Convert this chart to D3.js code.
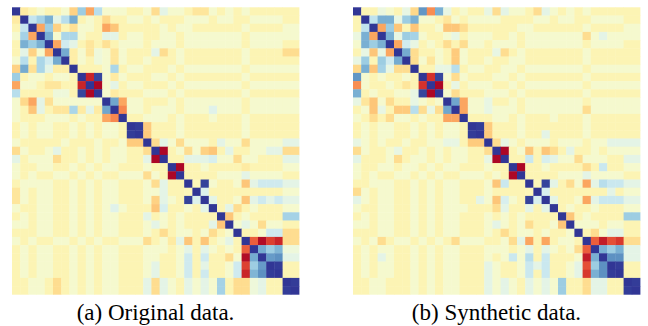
<!DOCTYPE html>
<html>
<head>
<meta charset="utf-8">
<script src="https://cdn.jsdelivr.net/npm/d3@7"></script>
<style>
  body { margin: 0; background: #fff; }
  text { font-family: "Liberation Serif", "DejaVu Serif", serif; }
</style>
</head>
<body>
<svg id="chart" width="648" height="326"></svg>
<script>
// 35 variables, correlation matrices stored as lower triangles (row i holds cols 0..i-1)
const variables = d3.range(35);

const originalLower = [
  [],
  [-.12],
  [-.05, .3],
  [.05, .42, -.42],
  [-.05, .58, .45, .58],
  [-.05, .16, -.25, .05, -.42],
  [.05, .35, -.05, .4, .25, .6],
  [-.25, .6, -.18, .4, .16, -.1, -.1],
  [.45, -.05, .05, .05, -.05, .05, .05, -.05],
  [-.42, .05, .05, -.05, -.15, -.15, -.05, -.05, -.85],
  [.35, -.05, -.05, -.05, -.05, .1, .1, -.05, .95, -.97],
  [.05, -.22, -.42, .16, -.18, .05, .05, .05, .05, .05, .05],
  [.05, -.05, -.3, .16, -.05, -.15, -.15, .4, -.12, .16, -.12, .62],
  [.05, -.05, -.05, -.05, .05, .05, .05, -.05, .05, -.05, -.05, -.42, -.52],
  [-.05, .05, -.05, .05, .05, -.05, -.05, .05, -.05, .05, -.05, .05, .05, -.05],
  [-.05, .05, -.05, .05, .05, -.05, -.05, .05, -.05, .05, -.05, .05, .05, -.05, .98],
  [.05, -.05, -.05, -.05, -.05, -.05, .05, -.05, -.05, -.05, .05, -.05, -.05, .05, -.28, -.28],
  [-.2, .05, -.05, -.05, .05, .16, -.05, -.05, .05, -.05, .05, -.05, .05, .05, -.05, -.05, -.2],
  [.16, -.05, .05, .05, .05, -.2, -.05, -.05, .05, -.05, .05, -.05, .05, .05, -.05, -.05, .16, -.97],
  [.05, -.05, -.05, .05, .05, -.05, -.05, .05, -.05, .05, -.05, .05, .05, -.05, -.05, -.05, .05, -.05, -.05],
  [.05, -.05, .05, -.05, -.05, .05, .05, -.05, .05, -.05, .05, -.05, -.05, .05, .05, .05, -.2, .05, -.05, -.97],
  [-.05, .05, .05, .05, .05, -.05, -.05, .05, -.05, .05, -.05, .05, .05, -.05, -.05, -.05, .05, -.2, .16, -.05, -.05],
  [-.15, .05, -.05, .05, .05, -.05, -.05, .05, -.05, .05, -.05, .05, .05, -.05, -.05, -.05, .05, .05, .16, -.05, -.05, -.03],
  [-.15, .05, -.05, .05, .05, -.05, -.05, .05, -.05, .05, -.05, .05, .05, -.05, -.05, -.05, .05, -.25, .16, .05, -.05, .96, .2],
  [.05, -.05, -.05, .05, .05, -.05, -.05, .05, -.05, .05, -.05, .05, .18, .05, -.05, -.05, -.05, -.3, .22, -.05, -.05, .05, -.05, .16],
  [-.05, .05, -.05, .05, .05, -.05, -.05, .05, -.05, .05, -.05, .05, .05, -.05, -.05, -.05, .16, -.05, .05, -.05, .05, -.05, -.05, -.05, -.05],
  [.05, .05, -.05, .05, .05, -.05, -.05, .05, -.05, .05, -.05, .05, .05, -.05, -.05, -.05, .05, .16, .05, -.05, .05, -.05, -.05, -.05, .16, -.3],
  [-.05, -.05, -.05, .05, .05, -.05, -.05, .05, -.05, .05, -.05, .05, .05, -.05, -.05, -.05, .05, -.05, -.2, -.05, .05, .05, -.05, .05, -.2, -.05, .05],
  [.05, -.05, .05, -.05, -.05, .05, .05, -.05, .05, -.05, .05, -.05, -.05, .05, .05, .05, -.2, -.05, .05, -.12, .16, -.3, -.05, -.3, -.05, .05, .16, -.05],
  [-.05, .05, -.05, .05, .05, -.05, -.05, .05, -.05, .05, -.05, .05, .05, -.05, -.05, -.05, .05, .05, .05, -.05, .05, .16, -.05, .16, .05, -.05, .05, -.05, -.65],
  [-.05, .05, -.05, .05, .05, -.05, -.05, .05, -.05, .05, -.05, .05, .05, -.05, -.05, -.05, .05, .05, -.05, -.05, .05, .26, -.05, .26, -.05, -.05, -.2, .05, -.95, .6],
  [-.05, .05, -.05, .05, .05, -.05, -.05, .05, -.05, .05, -.05, .05, .05, -.05, -.05, -.05, .05, .16, -.05, -.05, .05, .26, -.05, .16, -.05, -.05, .05, .26, -.75, .45, .66],
  [-.05, .05, -.05, .05, .05, -.05, -.05, .05, -.05, .05, -.05, .05, .05, -.05, -.05, -.05, .05, .16, -.05, -.05, .05, .26, -.05, .26, -.05, -.05, .05, .26, -.85, .56, .7, .98],
  [-.05, -.05, .05, .05, -.05, -.2, -.05, .05, -.05, .05, -.05, .05, .05, -.05, -.05, -.05, .16, -.2, .16, .05, -.05, .16, .05, .16, .05, .42, -.05, -.2, -.2, .1, .16, -.05, -.05],
  [-.05, -.05, .05, .05, -.05, -.2, -.05, .05, -.05, .05, -.05, .05, .05, -.05, -.05, -.05, .16, -.2, .16, .05, -.05, .16, .05, .16, .05, .42, -.05, -.2, -.2, .1, .16, -.05, -.05, .98]
];

const syntheticLower = [
  [],
  [-.05],
  [-.05, .32],
  [.12, .58, -.42],
  [.05, .58, .45, .58],
  [-.05, .14, -.3, .14, -.42],
  [.14, .45, -.04, .45, .25, .6],
  [-.22, .58, -.3, .42, .14, -.2, -.2],
  [.68, .05, -.05, .05, -.05, -.05, .05, -.05],
  [-.5, .05, -.05, -.05, .05, -.05, -.15, -.05, -.8],
  [.58, -.05, .05, -.05, -.05, .05, .05, .14, .95, -.97],
  [.14, -.15, -.3, .05, -.2, -.05, -.05, .14, .05, -.05, .05],
  [-.05, .05, -.3, .14, -.05, -.28, -.28, .35, -.2, .14, -.2, .62],
  [.05, -.05, -.2, -.05, -.2, .05, .05, -.05, .05, -.05, -.05, -.42, -.42],
  [-.05, .05, -.05, .05, .05, -.05, -.05, .05, -.05, .05, -.05, .05, .05, -.05],
  [-.05, .05, -.05, .05, .05, -.05, -.05, .05, -.05, .05, -.05, .05, .05, -.05, .98],
  [.14, .05, -.05, .05, -.05, -.05, .05, -.05, -.05, .05, .05, .14, .14, -.05, -.28, -.28],
  [-.2, .05, -.05, -.05, .05, .14, -.05, -.05, .05, -.05, .05, -.05, .05, .05, -.05, -.05, -.2],
  [.16, -.05, -.05, -.05, .05, -.2, -.05, .05, .05, -.05, .05, -.05, .05, .05, -.05, -.05, .14, -.97],
  [.05, -.05, -.05, .05, .05, -.05, .05, .05, -.05, .05, -.05, .05, .05, -.05, -.05, -.05, .05, -.05, -.05],
  [.05, -.05, .05, -.05, -.05, .05, .05, -.05, .05, -.05, .05, -.05, -.05, .05, .05, .05, -.05, .05, -.05, -.97],
  [-.05, -.05, .05, .05, .05, -.05, -.05, .05, -.05, .05, -.05, .05, .05, -.05, -.05, -.05, .05, -.3, .28, -.05, -.05],
  [-.2, .05, -.05, .05, .05, -.05, -.05, .05, -.05, .05, -.05, .05, .05, -.05, -.05, -.05, .05, -.05, -.05, -.05, -.05, -.03],
  [.16, .05, -.05, .05, .05, -.05, -.05, .05, -.05, .05, -.05, .05, .05, -.05, -.05, .16, .05, -.3, .22, .05, -.05, .96, .22],
  [.05, -.05, -.05, .05, .05, -.05, -.05, .05, -.05, .05, -.05, .05, .05, .05, -.05, -.05, -.05, -.2, .16, -.05, -.05, .16, -.05, .16],
  [-.05, .05, -.05, .05, .05, -.05, -.05, .05, -.05, .05, -.05, .05, .05, -.05, -.05, -.05, .05, -.05, .05, -.05, .05, -.05, -.05, -.05, -.05],
  [.05, .05, -.05, .05, .05, -.05, -.05, .05, -.05, .05, -.05, .05, .05, -.05, -.05, -.05, .05, .16, .05, -.05, .05, -.2, -.05, -.05, .05, -.3],
  [-.05, -.05, -.05, .05, .05, -.05, -.05, .05, -.05, .05, -.05, .05, .05, -.05, -.05, -.05, .05, -.05, -.2, -.05, .05, .05, -.05, .05, -.05, -.05, .05],
  [.05, -.05, .05, -.2, -.05, .05, .05, -.05, .05, -.05, .05, -.05, -.2, .05, .05, .05, -.05, -.05, .05, -.2, .16, -.42, -.05, -.42, -.05, .05, .05, -.05],
  [-.05, .05, -.05, .05, .05, -.05, -.05, .05, -.05, .05, -.05, .05, .05, -.05, -.05, -.05, .05, .05, .05, -.05, .05, .16, -.05, .16, .05, -.05, .05, -.2, -.65],
  [-.05, .05, -.05, .16, .05, -.05, -.05, .05, -.05, .05, -.05, .05, .05, -.05, -.05, -.05, .05, -.05, .05, .28, .05, .35, -.05, .28, -.05, -.05, -.05, .05, -.88, .58],
  [-.05, .05, -.05, .05, .05, -.05, -.05, .05, -.05, .05, -.05, .05, .05, -.05, -.05, -.05, .16, .05, -.05, -.05, .05, .28, .16, .28, -.05, -.05, .05, .16, -.7, .45, .7],
  [-.05, .05, -.05, .05, .05, -.05, -.05, .05, -.05, .05, -.05, .05, .05, -.05, -.05, -.05, .16, .05, -.05, -.05, .05, .28, -.05, .28, -.05, -.05, .05, .16, -.78, .58, .7, .98],
  [-.05, -.05, .05, .05, -.05, -.05, -.05, .05, -.05, .05, -.05, .05, .05, -.05, -.05, -.05, .16, .05, .16, .05, -.05, .16, .05, .16, .05, .45, -.05, -.05, -.2, .16, .16, -.05, -.05],
  [-.05, -.05, .05, .05, -.05, -.05, -.05, .05, -.05, .05, -.05, .05, .05, -.05, -.05, -.05, .16, .05, .16, .05, -.05, .16, .05, .16, .05, .45, -.05, -.05, -.2, .16, .16, -.05, -.05, .98]
];

const captions = ["(a) Original data.", "(b) Synthetic data."];

const svg = d3.select("#chart");
const size = 287;
const panels = [
  { lower: originalLower, x: 12, caption: captions[0] },
  { lower: syntheticLower, x: 353, caption: captions[1] }
];

const color = d3.scaleSequential(d3.interpolateRdYlBu).domain([-1, 1]);
const band = d3.scaleBand().domain(variables).range([0, size]);

// mirror the lower triangle, diagonal is 1
function cells(lower) {
  const out = [];
  variables.forEach(i => variables.forEach(j => {
    const v = i === j ? 1 : (i > j ? lower[i][j] : lower[j][i]);
    out.push({ i, j, v });
  }));
  return out;
}

panels.forEach(p => {
  const g = svg.append("g").attr("transform", `translate(${p.x},7.3)`);
  g.selectAll("rect").data(cells(p.lower)).enter().append("rect")
    .attr("x", d => band(d.j))
    .attr("y", d => band(d.i))
    .attr("width", band.bandwidth() + 0.4)
    .attr("height", band.bandwidth() + 0.4)
    .attr("fill", d => color(d.v));

  svg.append("text")
    .attr("x", p.x + size / 2)
    .attr("y", 320)
    .attr("text-anchor", "middle")
    .attr("font-size", 23)
    .attr("fill", "#000")
    .text(p.caption);
});
</script>
</body>
</html>
